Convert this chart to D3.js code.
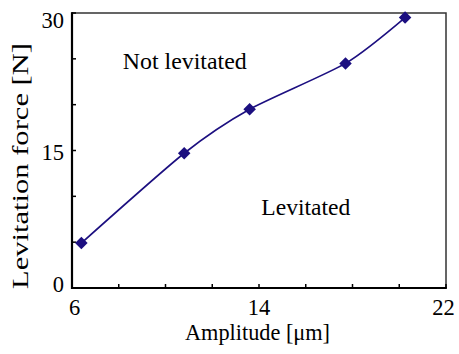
<!DOCTYPE html>
<html>
<head>
<meta charset="utf-8">
<script src="https://cdn.jsdelivr.net/npm/d3@7"></script>
<style>
  body { margin: 0; background: #fff; }
  text { font-family: "Liberation Serif", "Times New Roman", serif; fill: #000; }
</style>
</head>
<body>
<div id="chart"></div>
<script>
const amplitude = [6.4, 10.8, 13.6, 17.7, 20.25];
const force = [4.9, 14.7, 19.5, 24.5, 29.5];
const xTickLabels = [6, 14, 22];
const yTickLabels = [0, 15, 30];
const xMinorTicks = [8, 10, 12, 16, 18, 20];
const yMinorTicks = [5, 10, 20, 25];
const regionLabels = [
  { text: "Not levitated", x: 8.17, y: 23.85, len: 124 },
  { text: "Levitated", x: 14.1, y: 7.95, len: 89 }
];

const W = 459, H = 354;
const M = { top: 13, right: 13, bottom: 66, left: 72 };
const w = W - M.left - M.right;
const h = H - M.top - M.bottom;
const navy = '#1c0f80';

const svg = d3.select('#chart').append('svg')
  .attr('width', W)
  .attr('height', H);
const g = svg.append('g')
  .attr('transform', `translate(${M.left}, ${M.top})`);

const x = d3.scaleLinear().domain([6, 22]).range([0, w]);
const y = d3.scaleLinear().domain([0, 30]).range([h, 0]);

// frame: thin grey top/right, heavier black axes
g.append('rect')
  .attr('x', 0).attr('y', 0).attr('width', w).attr('height', h)
  .attr('fill', 'none').attr('stroke', '#333').attr('stroke-width', 1.5);

// ticks (inside)
g.selectAll('.xt').data(xMinorTicks.concat(xTickLabels)).join('line')
  .attr('x1', d => x(d)).attr('x2', d => x(d))
  .attr('y1', h).attr('y2', h - 4)
  .attr('stroke', '#000').attr('stroke-width', 1.5);
g.selectAll('.yt').data(yMinorTicks.concat(yTickLabels)).join('line')
  .attr('x1', 0).attr('x2', 4)
  .attr('y1', d => y(d)).attr('y2', d => y(d))
  .attr('stroke', '#000').attr('stroke-width', 1.5);

g.append('line').attr('x1', 0).attr('x2', 0).attr('y1', -0.75).attr('y2', h + 1)
  .attr('stroke', '#000').attr('stroke-width', 2.2);
g.append('line').attr('x1', -1).attr('x2', w + 0.75).attr('y1', h).attr('y2', h)
  .attr('stroke', '#000').attr('stroke-width', 2.2);

// tick labels (slightly pulled toward the middle, like the original)
g.selectAll('.xl').data(xTickLabels).join('text')
  .attr('x', d => x(d) + 2.7 - (d - 6) * 0.33).attr('y', h + 27)
  .attr('text-anchor', 'middle')
  .attr('font-size', 22.5)
  .text(d => d);
g.selectAll('.yl').data(yTickLabels).join('text')
  .attr('x', -8).attr('y', d => y(d) + 4 + d * 0.35)
  .attr('text-anchor', 'end')
  .attr('font-size', 22.5)
  .text(d => d);

// axis titles
g.append('text')
  .attr('x', x(6) + 113).attr('y', h + 52)
  .attr('font-size', 23)
  .attr('textLength', 145)
  .attr('lengthAdjust', 'spacingAndGlyphs')
  .text('Amplitude [\u03bcm]');
g.append('text')
  .attr('transform', `translate(${-44}, ${h + 1}) rotate(-90)`)
  .attr('font-size', 23)
  .attr('textLength', 246)
  .attr('lengthAdjust', 'spacingAndGlyphs')
  .text('Levitation force [N]');

// region annotations
g.selectAll('.rl').data(regionLabels).join('text')
  .attr('x', d => x(d.x)).attr('y', d => y(d.y))
  .attr('font-size', 23.5)
  .attr('textLength', d => d.len)
  .attr('lengthAdjust', 'spacingAndGlyphs')
  .text(d => d.text);

// data line
const pts = amplitude.map((a, i) => [a, force[i]]);
const line = d3.line()
  .x(d => x(d[0]))
  .y(d => y(d[1]))
  .curve(d3.curveCardinal.tension(0.3));
g.append('path')
  .datum(pts)
  .attr('fill', 'none')
  .attr('stroke', navy)
  .attr('stroke-width', 1.6)
  .attr('d', line);

g.selectAll('.pt').data(pts).join('path')
  .attr('transform', d => `translate(${x(d[0])}, ${y(d[1])})`)
  .attr('d', d3.symbol(d3.symbolDiamond2, 100))
  .attr('fill', navy);
</script>
</body>
</html>
